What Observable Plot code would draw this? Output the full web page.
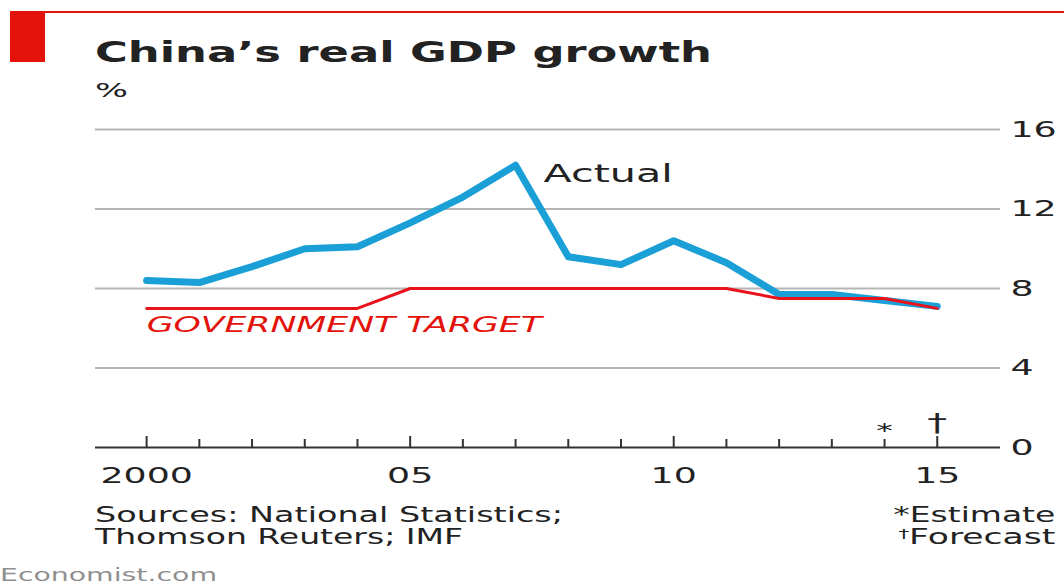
<!DOCTYPE html>
<html><head><meta charset="utf-8">
<script src="https://cdn.jsdelivr.net/npm/d3@7"></script>
<script src="https://cdn.jsdelivr.net/npm/@observablehq/plot@0.6"></script>
<style>
html,body{margin:0;padding:0;background:#fff;}
#wrap{position:relative;width:1064px;height:588px;overflow:hidden;font-family:"DejaVu Sans",sans-serif;color:#222;}
.abs{position:absolute;white-space:nowrap;line-height:1;display:inline-block;}
#topline{left:10px;top:11px;width:1054px;height:2px;background:#e3120b;}
#block{left:10px;top:12px;width:35px;height:50px;background:#e3120b;}
#title{left:95px;top:38px;font-weight:bold;font-size:29px;transform-origin:left center;}
#unit{left:95px;top:80px;font-size:20px;transform-origin:left center;}
.src{left:95px;font-size:21px;transform-origin:left center;}
.note{right:9px;font-size:21px;transform-origin:right center;}
.note .sup{font-size:13px;vertical-align:6px;}
#brand{left:0px;top:567px;font-size:17px;color:#8f8f8f;transform-origin:left center;}
#chart{position:absolute;left:0;top:100px;}
</style></head>
<body>
<div id="wrap">
  <div id="topline" class="abs"></div>
  <div id="block" class="abs"></div>
  <div id="title" class="abs" data-w="617">China’s real GDP growth</div>
  <div id="unit" class="abs" data-w="33">%</div>
  <div id="chart"></div>
  <div class="abs src" style="top:505px" data-w="468">Sources: National Statistics;</div>
  <div class="abs src" style="top:527px" data-w="368">Thomson Reuters; IMF</div>
  <div class="abs note" style="top:505px" data-w="162">*Estimate</div>
  <div class="abs note" style="top:527px" data-w="157"><span class="sup">†</span>Forecast</div>
  <div id="brand" class="abs" data-w="217">Economist.com</div>
</div>
<script>
const years = [2000,2001,2002,2003,2004,2005,2006,2007,2008,2009,2010,2011,2012,2013,2014,2015];
const actual = [8.4,8.3,9.1,10.0,10.1,11.3,12.6,14.2,9.6,9.2,10.4,9.3,7.7,7.7,7.4,7.1];
const target = [7,7,7,7,7,8,8,8,8,8,8,8,7.5,7.5,7.5,7];
const yTicks = [0,4,8,12,16];
const gridValues = [4,8,12,16];
const majorYears = [2000,2005,2010,2015];
const majorLabels = ["2000","05","10","15"];
const minorYears = years.filter(y => !majorYears.includes(y));
const xDomain = [1999.03, 2016.2];

const data = years.map((y,i) => ({year:y, actual:actual[i], target:target[i]}));

const chart = Plot.plot({
  width: 1064, height: 400,
  marginLeft: 95, marginRight: 64, marginTop: 29, marginBottom: 53,
  style: {fontFamily: "DejaVu Sans", fontSize: "22px", color: "#222", background: "transparent", overflow: "visible"},
  x: {domain: xDomain, axis: null},
  y: {domain: [0,16], axis: null},
  marks: [
    Plot.ruleY(gridValues, {stroke: "#b5b5b5", strokeWidth: 2}),
    Plot.ruleX(minorYears, {x: d => d, y1: 0, y2: 0, insetTop: -8, stroke: "#333", strokeWidth: 2}),
    Plot.ruleX(majorYears, {x: d => d, y1: 0, y2: 0, insetTop: -11, stroke: "#333", strokeWidth: 2}),
    Plot.ruleY([0], {stroke: "#333", strokeWidth: 2}),
    Plot.line(data, {x: "year", y: "actual", stroke: "#1a9fd6", strokeWidth: 7, strokeLinejoin: "round"}),
    Plot.line(data, {x: "year", y: "target", stroke: "#e8131b", strokeWidth: 3}),
    Plot.text(["Actual"], {x: 2007.53, y: 13.75, textAnchor: "start", fontSize: 25, fill: "#222"}),
    Plot.text(["GOVERNMENT TARGET"], {x: 2000, y: 6.17, textAnchor: "start", fontSize: 21, fontStyle: "italic", fill: "#e3120b"}),
    Plot.text(["*"], {x: 2014, y: 0, dy: -17, fontSize: 20, fill: "#222"}),
    Plot.text(["†"], {x: 2015, y: 0, dy: -24, fontSize: 24, fill: "#222"}),
    Plot.axisY({anchor: "right", ticks: yTicks, tickSize: 0, tickPadding: 10, label: null}),
    Plot.axisX({ticks: majorYears, tickFormat: d => majorLabels[majorYears.indexOf(d)], tickSize: 0, tickPadding: 20, label: null})
  ]
});
document.getElementById("chart").appendChild(chart);

// horizontal stretch of text to match the reference's wide lettering
const K = 1.65;
chart.querySelectorAll("text").forEach(t => {
  const w = t.getComputedTextLength();
  if (w > 0) { t.setAttribute("textLength", w * K); t.setAttribute("lengthAdjust", "spacingAndGlyphs"); }
});
document.querySelectorAll("[data-w]").forEach(el => {
  const w = el.getBoundingClientRect().width;
  el.style.transform = `scaleX(${(+el.dataset.w) / w})`;
});
</script>
</body></html>
